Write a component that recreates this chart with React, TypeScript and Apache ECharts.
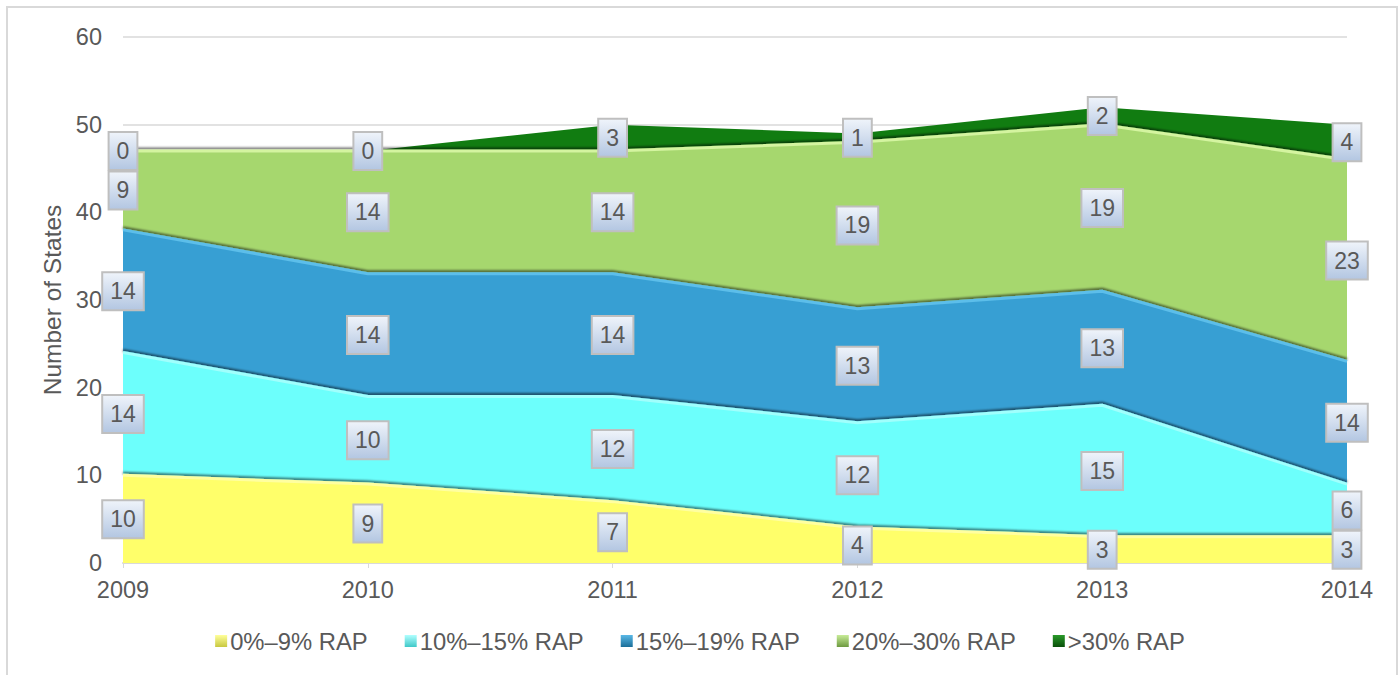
import React, { useEffect, useRef } from "react";
import * as echarts from "echarts";

const years = ["2009", "2010", "2011", "2012", "2013", "2014"];
const seriesNames = ["0%–9% RAP", "10%–15% RAP", "15%–19% RAP", "20%–30% RAP", ">30% RAP"];
const rap0to9 = [10, 9, 7, 4, 3, 3];
const rap10to15 = [14, 10, 12, 12, 15, 6];
const rap15to19 = [14, 14, 14, 13, 13, 14];
const rap20to30 = [9, 14, 14, 19, 19, 23];
const rapOver30 = [0, 0, 3, 1, 2, 4];
const yTicks = { min: 0, max: 60, interval: 10 };

const fills = ["#ffff6a", "#6cfffc", "#379fd3", "#a6d76e", "#117c11"];
const edges = ["#ffffa0", "#a0fffd", "#5cbeea", "#d4f4a0", "#117c11"];
const legendTop = ["#ffff9a", "#b0ffff", "#5ab8e6", "#c8ec98", "#2a9a2a"];
const legendBottom = ["#c8c840", "#40c8c8", "#1a6e98", "#6e9a40", "#0a500a"];

export default function App() {
  const ref = useRef<HTMLDivElement>(null);
  useEffect(() => {
    if (!ref.current) return;
    const chart = echarts.init(ref.current, undefined, { renderer: "svg" });
    const all = [rap0to9, rap10to15, rap15to19, rap20to30, rapOver30];
    const font = "Liberation Sans, Arial, sans-serif";
    const labelData: any[] = [];
    const base = years.map(() => 0);
    all.forEach((arr) => {
      arr.forEach((v, i) => {
        labelData.push([i, base[i] + v / 2, v]);
        base[i] += v;
      });
    });
    const areaSeries = all.map((arr, k) => ({
      name: seriesNames[k],
      type: "line",
      stack: "total",
      data: arr,
      symbol: "none",
      areaStyle: { color: fills[k], opacity: 1 },
      lineStyle:
        k === 4
          ? { width: 0 }
          : {
              color: edges[k],
              width: 3,
              shadowColor: "rgba(0,0,0,0.55)",
              shadowBlur: 2,
              shadowOffsetY: -2,
            },
      itemStyle: {
        color: {
          type: "linear",
          x: 0,
          y: 0,
          x2: 0,
          y2: 1,
          colorStops: [
            { offset: 0, color: legendTop[k] },
            { offset: 1, color: legendBottom[k] },
          ],
        },
      },
      z: 2,
    }));
    chart.setOption({
      animation: false,
      grid: { left: 123, right: 53, top: 37, bottom: 112 },
      legend: {
        bottom: 17,
        left: "center",
        itemWidth: 12,
        itemHeight: 12,
        itemGap: 37,
        icon: "rect",
        data: seriesNames,
        textStyle: { fontSize: 23.8, color: "#595959", fontFamily: font, padding: [0, 0, 0, -2] },
      },
      graphic: [
        {
          type: "rect",
          shape: { x: 7, y: 7, width: 1390, height: 700 },
          style: { fill: "none", stroke: "#d9d9d9", lineWidth: 2 },
          silent: true,
        },
      ],
      xAxis: {
        type: "category",
        data: years,
        boundaryGap: false,
        axisLine: { lineStyle: { color: "#d9d9d9", width: 2 } },
        axisTick: { show: true, length: 5, lineStyle: { color: "#d9d9d9" } },
        axisLabel: { fontSize: 23.5, color: "#595959", margin: 15, fontFamily: font },
      },
      yAxis: {
        type: "value",
        min: yTicks.min,
        max: yTicks.max,
        interval: yTicks.interval,
        name: "Number of States",
        nameLocation: "middle",
        nameGap: 57,
        nameTextStyle: { fontSize: 24.5, color: "#595959", fontFamily: font },
        axisLine: { show: false },
        axisTick: { show: false },
        splitLine: { lineStyle: { color: "#d9d9d9", width: 1.5 } },
        axisLabel: { fontSize: 23.5, color: "#595959", margin: 21, fontFamily: font },
      },
      series: [
        ...areaSeries,
        {
          type: "scatter",
          data: labelData,
          symbolSize: 0,
          silent: true,
          z: 10,
          itemStyle: { opacity: 1 },
          label: {
            show: true,
            opacity: 1,
            position: "inside",
            formatter: (p: any) => String(p.value[2]),
            fontSize: 23,
            lineHeight: 23,
            color: "#595959",
            fontFamily: font,
            padding: [7, 7, 6, 7],
            borderColor: "#bfbfbf",
            borderWidth: 2,
            backgroundColor: {
              type: "linear",
              x: 0,
              y: 0,
              x2: 0,
              y2: 1,
              colorStops: [
                { offset: 0, color: "#eef3fa" },
                { offset: 1, color: "#b4c7e2" },
              ],
            },
          },
        },
      ],
    });
    return () => chart.dispose();
  }, []);
  return (
    <div
      ref={ref}
      style={{ position: "fixed", left: 0, top: 0, width: 1400, height: 675, background: "#fff" }}
    />
  );
}
